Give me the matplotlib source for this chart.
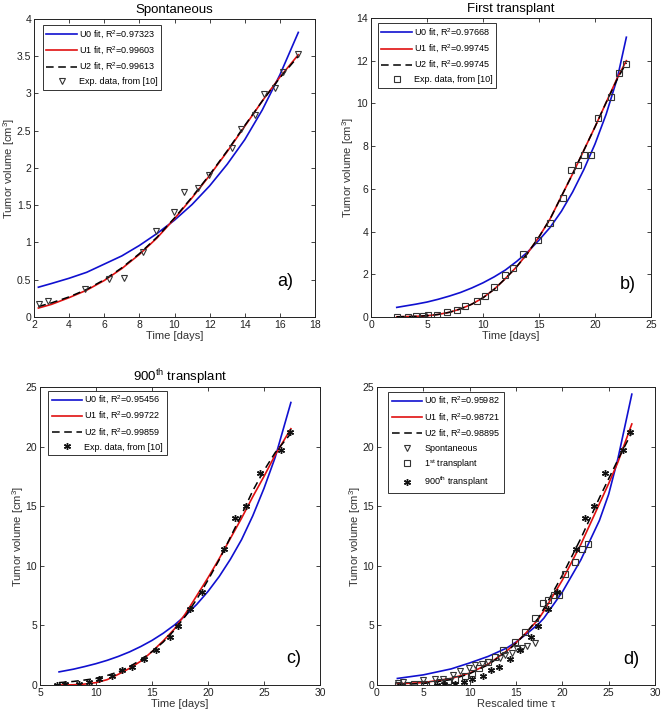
import matplotlib
matplotlib.use("Agg")
import matplotlib.pyplot as plt
from matplotlib.ticker import FuncFormatter

plt.rcParams['font.family'] = ['Liberation Sans', 'DejaVu Sans']
plt.rcParams['mathtext.default'] = 'regular'

# ---- a) spontaneous ----
spont_t = [2.27, 2.78, 4.93, 6.27, 7.1, 8.19, 8.95, 9.98, 10.55, 11.35, 11.94,
           13.3, 13.8, 14.6, 15.1, 15.7, 16.2, 17.03]
spont_v = [0.18, 0.215, 0.38, 0.51, 0.53, 0.87, 1.16, 1.41, 1.68, 1.73, 1.91,
           2.27, 2.52, 2.71, 2.99, 3.08, 3.29, 3.53]
a_fit_t = [2.25, 3, 4, 5, 6, 7, 8, 9, 10, 11, 12, 13, 14, 15, 16, 17.05]
a_u0 = [0.40, 0.45, 0.52, 0.60, 0.71, 0.82, 0.96, 1.12, 1.30, 1.51, 1.76, 2.05, 2.38, 2.78, 3.25, 3.82]
a_u1 = [0.12, 0.17, 0.26, 0.36, 0.49, 0.65, 0.84, 1.06, 1.32, 1.6, 1.9, 2.22, 2.56, 2.9, 3.22, 3.52]
a_u2 = [0.14, 0.19, 0.27, 0.37, 0.50, 0.66, 0.85, 1.07, 1.33, 1.61, 1.91, 2.23, 2.57, 2.9, 3.21, 3.50]

# ---- b) first transplant ----
first_t = [2.32, 3.34, 4.02, 4.68, 5.12, 5.93, 6.82, 7.66, 8.4, 9.45, 10.22, 10.97,
           12.0, 12.72, 13.56, 14.87, 15.97, 17.1, 17.86, 18.5, 19.05, 19.6, 20.3,
           21.4, 22.1, 22.8]
first_v = [0.02, 0.02, 0.05, 0.06, 0.08, 0.09, 0.25, 0.31, 0.5, 0.75, 0.97, 1.41,
           1.95, 2.31, 2.94, 3.6, 4.41, 5.59, 6.86, 7.1, 7.59, 7.59, 9.32,
           10.3, 11.41, 11.83]
b_fit_t = [2.3, 4, 5, 6, 7, 8, 9, 10, 11, 12, 13, 14, 15, 16, 17, 18, 19, 20, 21, 22, 22.8]
b_u0 = [0.45, 0.6, 0.7, 0.83, 0.98, 1.15, 1.36, 1.6, 1.88, 2.2, 2.6, 3.05, 3.6, 4.2,
        4.95, 5.85, 6.9, 8.1, 9.5, 11.2, 13.1]
b_u1 = [0.01, 0.03, 0.06, 0.12, 0.22, 0.38, 0.6, 0.9, 1.3, 1.8, 2.35, 3.0, 3.75, 4.6,
        5.65, 6.7, 7.8, 8.9, 10.05, 11.2, 12.0]
b_u2 = [0.01, 0.03, 0.06, 0.12, 0.22, 0.38, 0.6, 0.9, 1.3, 1.8, 2.35, 3.0, 3.75, 4.6,
        5.65, 6.7, 7.8, 8.9, 10.05, 11.15, 11.9]

# ---- c) 900th transplant ----
t900_t = [6.5, 7.2, 8.45, 9.35, 10.3, 11.4, 12.35, 13.2, 14.3, 15.4, 16.6, 17.35,
          18.4, 19.45, 21.45, 22.4, 23.4, 24.6, 26.5, 27.3]
t900_v = [0.0, 0.1, 0.05, 0.22, 0.53, 0.78, 1.28, 1.53, 2.2, 2.92, 4.04, 4.96,
          6.35, 7.77, 11.37, 13.98, 14.99, 17.8, 19.75, 21.2]
c_fit_t = [6.7, 8, 9, 10, 11, 12, 13, 14, 15, 16, 17, 18, 19, 20, 21, 22, 23, 24, 25, 26, 27.4]
c_u0 = [1.1, 1.33, 1.55, 1.79, 2.07, 2.4, 2.78, 3.23, 3.74, 4.34, 5.03, 5.84, 6.77,
        7.85, 9.1, 10.55, 12.2, 14.2, 16.5, 19.1, 23.7]
c_u1 = [0.0, 0.02, 0.08, 0.2, 0.45, 0.9, 1.4, 2.0, 2.8, 3.7, 4.7, 6.0, 7.5, 9.0, 10.6,
        12.3, 14.0, 15.8, 17.5, 19.3, 21.5]
c_u2 = [0.2, 0.3, 0.42, 0.55, 0.8, 1.1, 1.55, 2.1, 2.8, 3.6, 4.6, 5.8, 7.2, 8.8, 10.5,
        12.4, 14.3, 16.3, 18.0, 19.5, 21.1]

# ---- d) all data vs rescaled time ----
d_fit_t = [2.2, 5, 8, 10, 12, 14, 15, 16, 17.4, 18, 20, 22, 24, 25, 26, 27.5]
d_u0 = [0.55, 0.85, 1.35, 1.85, 2.4, 3.1, 3.6, 4.2, 5.1, 5.6, 7.8, 10.5, 13.8, 16.0, 19.0, 24.4]
d_u1 = [0.1, 0.2, 0.55, 1.0, 1.75, 2.85, 3.55, 4.3, 5.5, 6.2, 8.8, 11.8, 15.2, 16.9, 18.7, 21.9]
d_u2 = [0.05, 0.12, 0.45, 0.95, 1.7, 2.8, 3.5, 4.3, 5.6, 6.4, 9.2, 12.3, 15.7, 17.3, 18.9, 21.2]

panels = [
    dict(title='Spontaneous', tag='a)', xlabel='Time [days]', xlim=(2, 18), xstep=2,
         ylim=(0, 4), ystep=0.5, fit_t=a_fit_t, u=(a_u0, a_u1, a_u2),
         r2=('0.97323', '0.99603', '0.99613'),
         data=[(spont_t, spont_v, 'v', 'Exp. data, from [10]')],
         rect=[34, 19, 315, 317], leg=(0.031, 0.98), tagpos=(0.893, 0.118)),
    dict(title='First transplant', tag='b)', xlabel='Time [days]', xlim=(0, 25), xstep=5,
         ylim=(0, 14), ystep=2, fit_t=b_fit_t, u=(b_u0, b_u1, b_u2),
         r2=('0.97668', '0.99745', '0.99745'),
         data=[(first_t, first_v, 's', 'Exp. data, from [10]')],
         rect=[371, 18, 651, 317], leg=(0.024, 0.983), tagpos=(0.917, 0.108)),
    dict(title='900$^{th}$ transplant', tag='c)', xlabel='Time [days]', xlim=(5, 30), xstep=5,
         ylim=(0, 25), ystep=5, fit_t=c_fit_t, u=(c_u0, c_u1, c_u2),
         r2=('0.95456', '0.99722', '0.99859'),
         data=[(t900_t, t900_v, 'star', 'Exp. data, from [10]')],
         rect=[40, 387, 320, 685], leg=(0.029, 0.988), tagpos=(0.905, 0.09)),
    dict(title=None, tag='d)', xlabel='Rescaled time τ', xlim=(0, 30), xstep=5,
         ylim=(0, 25), ystep=5, fit_t=d_fit_t, u=(d_u0, d_u1, d_u2),
         r2=('0.95982', '0.98721', '0.98895'),
         data=[(spont_t, spont_v, 'v', 'Spontaneous'),
               (first_t, first_v, 's', '1$^{st}$ transplant'),
               (t900_t, t900_v, 'star', '900$^{th}$ transplant')],
         rect=[377, 387, 655, 685], leg=(0.04, 0.984), tagpos=(0.916, 0.084)),
]

W, H = 661, 714
fig = plt.figure(figsize=(W / 100, H / 100), dpi=100)
fmt = FuncFormatter(lambda v, p: '%g' % v)

for p in panels:
    l, t, r, b = p['rect']
    ax = fig.add_axes([l / W, 1 - b / H, (r - l) / W, (b - t) / H])
    x = p['fit_t']
    ax.plot(x, p['u'][0], color='#1010d0', lw=1.2, label='U0 fit, R$^2$=' + p['r2'][0])
    ax.plot(x, p['u'][1], color='#e01010', lw=1.2, label='U1 fit, R$^2$=' + p['r2'][1])
    ax.plot(x, p['u'][2], color='black', lw=1.1, ls=(0, (5, 3)),
            label='U2 fit, R$^2$=' + p['r2'][2])
    for dt, dv, mk, lab in p['data']:
        if mk == 'star':
            ax.plot(dt, dv, ls='none', marker=(6, 2, 0), ms=5, mec='#111111',
                    mew=1.0, color='black', label=lab)
        else:
            ax.plot(dt, dv, ls='none', marker=mk, ms=5, mfc='none', mec='#333333',
                    mew=0.8, label=lab)
    ax.set_xlim(*p['xlim'])
    ax.set_ylim(*p['ylim'])
    xs = p['xstep']
    ax.set_xticks([p['xlim'][0] + i * xs for i in range(int(round((p['xlim'][1] - p['xlim'][0]) / xs)) + 1)])
    ys = p['ystep']
    ax.set_yticks([i * ys for i in range(int(round(p['ylim'][1] / ys)) + 1)])
    ax.xaxis.set_major_formatter(fmt)
    ax.yaxis.set_major_formatter(fmt)
    ax.tick_params(direction='in', top=True, right=True, length=3, width=0.6,
                   labelsize=7.5, pad=2, colors='#222222')
    for s in ax.spines.values():
        s.set_linewidth(0.7)
        s.set_color('#222222')
    ax.set_xlabel(p['xlabel'], fontsize=8, labelpad=1, color='#333333')
    ax.set_ylabel('Tumor volume [cm$^3$]', fontsize=8, labelpad=0, color='#333333')
    if p['title']:
        ax.set_title(p['title'], fontsize=9.5, pad=4)
    ax.text(p['tagpos'][0], p['tagpos'][1], p['tag'], transform=ax.transAxes,
            fontsize=13, ha='center', va='center')
    leg = ax.legend(loc='upper left', bbox_to_anchor=p['leg'], borderaxespad=0,
                    fontsize=6.5, handlelength=3.4, handletextpad=0.2,
                    labelspacing=0.45, borderpad=0.4, fancybox=False,
                    framealpha=1, edgecolor='#333333')
    leg.get_frame().set_linewidth(0.7)

fig.savefig('out.png', dpi=100)
